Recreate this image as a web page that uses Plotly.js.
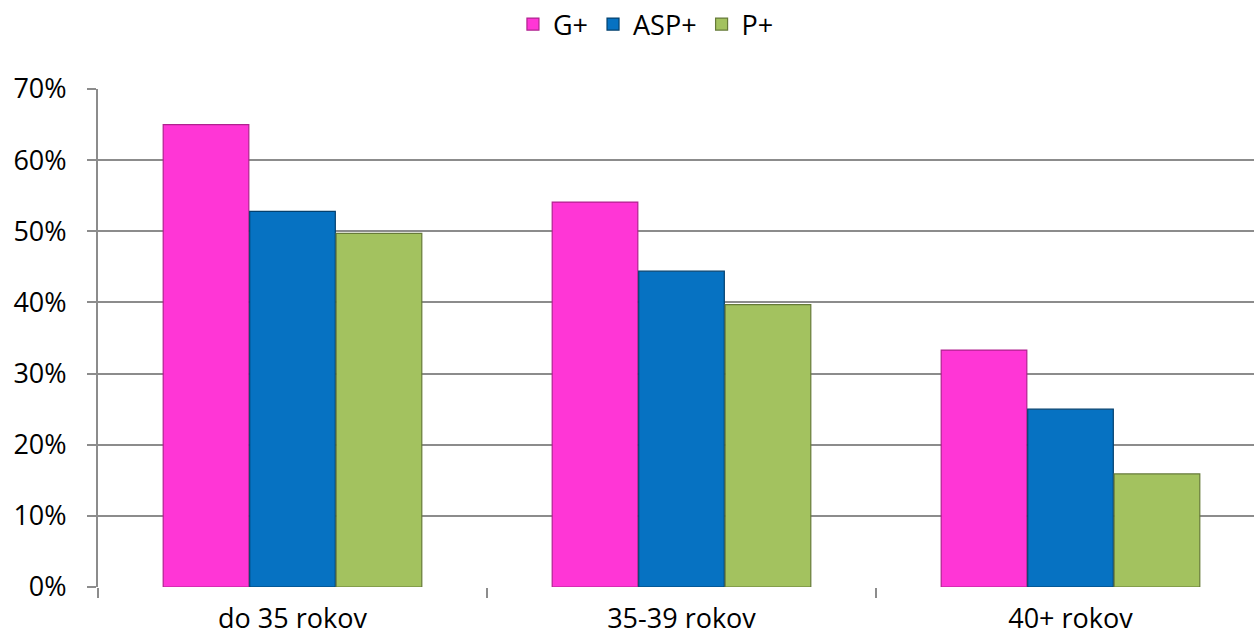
<!DOCTYPE html>
<html>
<head>
<meta charset="utf-8">
<script src="https://cdn.plot.ly/plotly-3.0.1.min.js"></script>
<style>html,body{margin:0;padding:0;background:#fff;}#chart{width:1254px;height:641px;}</style>
</head>
<body>
<div id="chart"></div>
<script>
const categories = ["do 35 rokov", "35-39 rokov", "40+ rokov"];
const seriesNames = ["G+", "ASP+", "P+"];
const gPlus = [0.65, 0.541, 0.333];
const aspPlus = [0.528, 0.444, 0.25];
const pPlus = [0.497, 0.397, 0.159];
const yTickVals = [0, 0.1, 0.2, 0.3, 0.4, 0.5, 0.6, 0.7];
const yTickText = ["0%", "10%", "20%", "30%", "40%", "50%", "60%", "70%"];

const colors = ["#FF36D6", "#0672C2", "#A3C25F"];
const lineColors = ["#B0228F", "#03406E", "#667A38"];
const values = [gPlus, aspPlus, pPlus];

const font = {family: "Open Sans, sans-serif", size: 27, color: "#000"};

const traces = values.map((v, i) => ({
  type: "bar",
  name: seriesNames[i],
  x: categories,
  y: v,
  marker: {color: colors[i], line: {color: lineColors[i], width: 1.2}},
  hoverinfo: "skip"
}));

const layout = {
  width: 1254,
  height: 641,
  margin: {l: 98, r: 0, t: 85, b: 54},
  paper_bgcolor: "#fff",
  plot_bgcolor: "#fff",
  font: font,
  barmode: "group",
  bargap: 0.333,
  bargroupgap: 0.01,
  showlegend: true,
  legend: {
    orientation: "h",
    x: 0.474, xanchor: "center",
    y: 1.13, yanchor: "middle",
    font: font,
    itemwidth: 30,
    traceorder: "normal"
  },
  xaxis: {
    type: "category",
    range: [-0.5, -0.5 + 1156 / 389],
    showline: false,
    showgrid: false,
    zeroline: false,
    ticks: "outside",
    tickson: "boundaries",
    ticklen: 10,
    tickcolor: "#8c8c8c",
    tickwidth: 2,
    tickfont: font,
    ticklabelstandoff: 13,
    fixedrange: true
  },
  yaxis: {
    range: [0, 0.7],
    tickvals: yTickVals,
    ticktext: yTickText,
    showline: true,
    linecolor: "#8c8c8c",
    linewidth: 2,
    showgrid: true,
    gridcolor: "#8c8c8c",
    gridwidth: 2,
    zeroline: false,
    ticks: "outside",
    ticklen: 9,
    tickcolor: "#8c8c8c",
    tickwidth: 2,
    tickfont: font,
    ticklabelstandoff: 15,
    fixedrange: true
  }
};

Plotly.newPlot("chart", traces, layout, {staticPlot: true, displayModeBar: false});
</script>
</body>
</html>
